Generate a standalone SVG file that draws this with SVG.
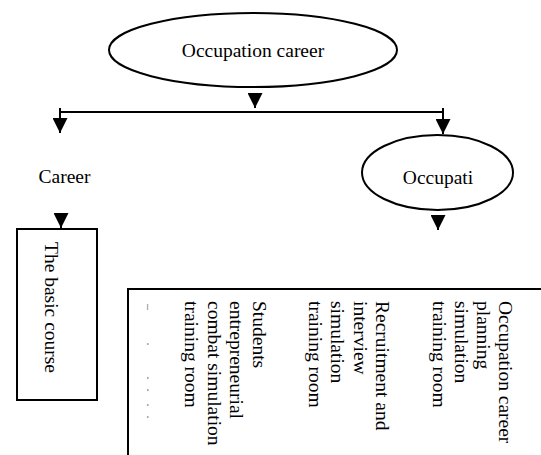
<svg xmlns="http://www.w3.org/2000/svg" width="541" height="455" viewBox="0 0 541 455">
<style>
.shape{fill:#fff;stroke:#000;stroke-width:2}
.lbl{font-family:"Liberation Serif","Times New Roman",serif;font-size:19.5px;fill:#000}
.mid{text-anchor:middle}
.conn{stroke:#000;stroke-width:2;fill:none}
.faint{font-family:"Liberation Serif","Times New Roman",serif;font-size:12px;fill:#666}
</style>
<defs>
<marker id="ah" markerUnits="userSpaceOnUse" markerWidth="15" markerHeight="15" refX="15" refY="7.5" orient="auto">
<path d="M0,0 L15,7.5 L0,15 z" fill="#000"/>
</marker>
</defs>
<rect width="541" height="455" fill="#fff"/>
<g id="connectors">
<line class="conn" x1="255" y1="93" x2="255" y2="108" marker-end="url(#ah)"/>
<line class="conn" x1="60" y1="112" x2="443" y2="112"/>
<line class="conn" x1="60" y1="108" x2="60" y2="133" marker-end="url(#ah)"/>
<line class="conn" x1="443" y1="108" x2="443" y2="134" marker-end="url(#ah)"/>
<line class="conn" x1="438" y1="215" x2="438" y2="230" marker-end="url(#ah)"/>
<line class="conn" x1="61" y1="213" x2="61" y2="228" marker-end="url(#ah)"/>
</g>
<g id="occupation-career">
<ellipse class="shape" cx="253" cy="50" rx="144" ry="37"/>
<text class="lbl mid" x="253" y="57">Occupation career</text>
</g>
<g id="career">
<text class="lbl mid" x="64.5" y="183">Career</text>
</g>
<g id="occupati">
<ellipse class="shape" cx="437.5" cy="172.5" rx="75.5" ry="37.5"/>
<text class="lbl mid" x="438" y="184">Occupati</text>
</g>
<g id="basic-course">
<rect class="shape" x="17" y="229" width="80" height="171"/>
<text class="lbl" transform="translate(45,242) rotate(90)">The basic course</text>
</g>
<g id="training-rooms">
<rect class="shape" x="128" y="289" width="440" height="200"/>
<text class="lbl" transform="translate(498.5,301) rotate(90)">Occupation career</text>
<text class="lbl" transform="translate(476.5,301) rotate(90)">planning</text>
<text class="lbl" transform="translate(454.5,301) rotate(90)">simulation</text>
<text class="lbl" transform="translate(432.5,301) rotate(90)">training room</text>
<text class="lbl" transform="translate(376,301) rotate(90)">Recruitment and</text>
<text class="lbl" transform="translate(353.5,301) rotate(90)">interview</text>
<text class="lbl" transform="translate(331,301) rotate(90)">simulation</text>
<text class="lbl" transform="translate(308.5,301) rotate(90)">training room</text>
<text class="lbl" transform="translate(252.5,301) rotate(90)">Students</text>
<text class="lbl" transform="translate(230,301) rotate(90)">entrepreneurial</text>
<text class="lbl" transform="translate(207.5,301) rotate(90)">combat simulation</text>
<text class="lbl" transform="translate(185,301) rotate(90)">training room</text>
<text class="faint" transform="translate(145,0) rotate(90)" x="304">–</text>
<text class="faint" transform="translate(147,0) rotate(90)" x="342.5 376.5 388.5 403.5 415.5">.....</text>
</g>
</svg>
